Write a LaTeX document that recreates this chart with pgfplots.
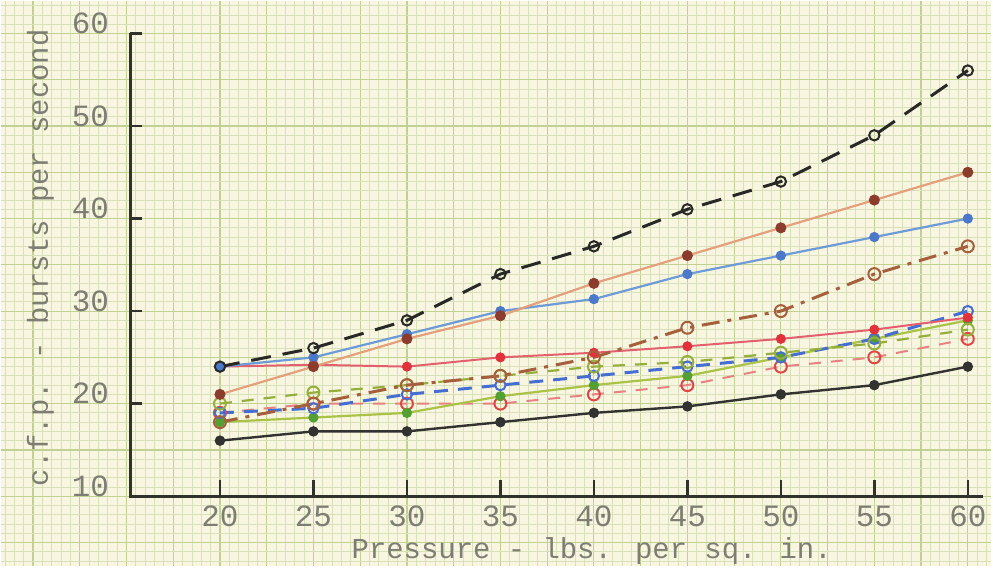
\documentclass[border=0pt]{standalone}
\usepackage{fontspec}
\setmainfont{Liberation Mono}
\usepackage{pgfplots}
\pgfplotsset{compat=1.18}
\definecolor{paper}{RGB}{248,245,224}
\definecolor{gridminor}{RGB}{216,225,186}
\definecolor{gridmajor}{RGB}{192,209,145}
\definecolor{txt}{RGB}{125,125,115}
\definecolor{axcol}{RGB}{50,50,45}
\definecolor{cblackd}{RGB}{40,40,38}
\definecolor{corange}{RGB}{228,160,125}
\definecolor{cbrowndot}{RGB}{140,60,45}
\definecolor{cblue}{RGB}{110,155,215}
\definecolor{cbluedot}{RGB}{75,120,200}
\definecolor{cbrownd}{RGB}{165,95,60}
\definecolor{cred}{RGB}{228,95,110}
\definecolor{creddot}{RGB}{225,50,60}
\definecolor{cgreend}{RGB}{150,175,60}
\definecolor{cblued}{RGB}{70,110,210}
\definecolor{cgreen}{RGB}{170,195,70}
\definecolor{cgreendot}{RGB}{85,160,50}
\definecolor{cpink}{RGB}{232,130,130}
\definecolor{cpinkc}{RGB}{225,70,70}
\definecolor{cblack}{RGB}{50,50,48}
\begin{document}
\begin{tikzpicture}
\begin{axis}[
  scale only axis, width=496.5pt, height=283.5pt,
  xmin=8.267, xmax=61.227, ymin=2.457, ymax=63.556,
  axis background/.style={fill=paper},
  axis line style={draw=none},
  xtick={10,12.5,15,17.5,20,22.5,25,27.5,30,32.5,35,37.5,40,42.5,45,47.5,50,52.5,55,57.5,60},
  xticklabels={,,,,20,,25,,30,,35,,40,,45,,50,,55,,60},
  ytick={5,10,15,20,25,30,35,40,45,50,55,60},
  yticklabels={,10,,20,,30,,40,,50,,60},
  minor xtick={8.5,9,...,61},
  minor ytick={3,4,...,63},
  grid=both,
  major grid style={gridmajor, line width=0.6pt},
  minor grid style={gridminor, line width=0.4pt},
  major tick length=0pt, minor tick length=0pt,
  tick label style={font=\fontsize{15.5}{15.5}\selectfont, text=txt},
  xticklabel style={anchor=center, yshift=25pt},
  yticklabel style={anchor=center, xshift=45pt, yshift=5pt},
  xlabel={Pressure - lbs. per sq. in.},
  ylabel={c.f.p. - bursts per second},
  label style={font=\fontsize{14.5}{14.5}\selectfont, text=txt},
  xlabel style={at={(axis description cs:0.597,0.027)}, anchor=center},
  ylabel style={at={(axis description cs:0.0403,0.545)}, anchor=center},
  clip=false,
]
% axes frame
\draw[axcol, line width=1.5pt] (axis cs:15.2,60) -- (axis cs:15.2,10) -- (axis cs:60.8,10);
\pgfplotsinvokeforeach{20,30,40,50,60}{\draw[axcol, line width=1.3pt] (axis cs:15.2,#1) -- (axis cs:15.85,#1);}
\pgfplotsinvokeforeach{20,25,30,35,40,45,50,55,60}{\draw[axcol, line width=1.3pt] (axis cs:#1,10) -- (axis cs:#1,11.8);}

% black solid
\addplot[cblack, line width=1.2pt, mark=*, mark size=2pt] coordinates {(20,16) (25,17) (30,17) (35,18) (40,19) (45,19.7) (50,21) (55,22) (60,24)};
% pink dashed, red open circles
\addplot[cpink, line width=1pt, dash pattern=on 6pt off 5pt, mark=o, mark size=3pt, mark options={solid, cpinkc, line width=1pt}] coordinates {(20,19) (25,20) (30,20) (35,20) (40,21) (45,22) (50,24) (55,25) (60,27)};
% green solid
\addplot[cgreen, line width=1.1pt, mark=*, mark size=2pt, mark options={cgreendot}] coordinates {(20,18) (25,18.5) (30,19) (35,20.8) (40,22) (45,23) (50,25) (55,27) (60,29)};
% blue dashed
\addplot[cblued, line width=1.5pt, dash pattern=on 7pt off 5pt, mark=o, mark size=2.6pt, mark options={solid, cblued, line width=1pt}] coordinates {(20,19) (25,19.5) (30,21) (35,22) (40,23) (45,24) (50,25) (55,27) (60,30)};
% green dashed
\addplot[cgreend, line width=1.1pt, dash pattern=on 6pt off 5pt, mark=o, mark size=3pt, mark options={solid, cgreend, line width=1pt}] coordinates {(20,20) (25,21.2) (30,22) (35,23) (40,24) (45,24.5) (50,25.5) (55,26.5) (60,28)};
% red solid
\addplot[cred, line width=1pt, mark=*, mark size=2pt, mark options={creddot}] coordinates {(20,24) (25,24.2) (30,24) (35,25) (40,25.5) (45,26.2) (50,27) (55,28) (60,29.3)};
% brown dash-dot
\addplot[cbrownd, line width=1.5pt, dash pattern=on 9pt off 4pt on 2pt off 4pt, mark=o, mark size=3pt, mark options={solid, cbrownd, line width=1pt}] coordinates {(20,18) (25,20) (30,22) (35,23) (40,25) (45,28.2) (50,30) (55,34) (60,37)};
% blue solid
\addplot[cblue, line width=1.1pt, mark=*, mark size=2pt, mark options={cbluedot}] coordinates {(20,24) (25,25) (30,27.5) (35,30) (40,31.3) (45,34) (50,36) (55,38) (60,40)};
% orange solid
\addplot[corange, line width=1.1pt, mark=*, mark size=2.2pt, mark options={cbrowndot}] coordinates {(20,21) (25,24) (30,27) (35,29.5) (40,33) (45,36) (50,39) (55,42) (60,45)};
% black dashed
\addplot[cblackd, line width=1.5pt, dash pattern=on 10pt off 6pt, mark=o, mark size=2.6pt, mark options={solid, cblackd, line width=1pt}] coordinates {(20,24) (25,26) (30,29) (35,34) (40,37) (45,41) (50,44) (55,49) (60,56)};
\end{axis}
\end{tikzpicture}
\end{document}
